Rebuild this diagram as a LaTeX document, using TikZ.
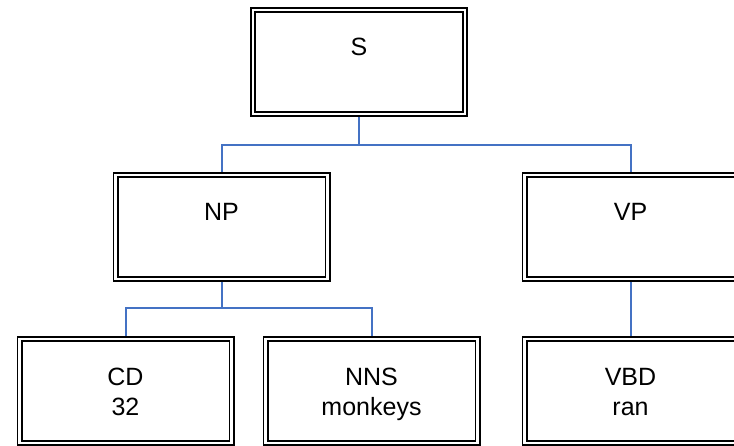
\documentclass[tikz,border=0pt]{standalone}
\usepackage{fontspec}
\setmainfont{Liberation Sans}
\usepackage{tikz}
\definecolor{linkblue}{RGB}{68,114,196}
\tikzset{
  tag/.style={draw=black,double=white,line width=1.9pt,double distance=2.2pt,
    rectangle,minimum width=212pt,minimum height=104pt,inner sep=0pt,outer sep=3pt,
    align=center,text height=46pt,text depth=58pt,
    font=\fontsize{25}{31}\selectfont},
  tagtwo/.style={tag,text height=77pt,text depth=27pt},
  link/.style={draw=linkblue,line width=2pt}
}
\begin{document}
\begin{tikzpicture}[line cap=butt,line join=miter,x=1pt,y=-1pt]
\clip(0,0) rectangle (734,446);
\node[tag] (S) at (359,62) {S};
\node[tag] (NP) at (221.5,227) {NP};
\node[tag] (VP) at (630.5,227) {VP};
\node[tagtwo] (CD) at (125.5,391) {CD\\32};
\node[tagtwo] (NNS) at (371.5,391) {NNS\\monkeys};
\node[tagtwo] (VBD) at (630.5,391) {VBD\\ran};
\coordinate (sfork) at (359,145);
\coordinate (npfork) at (221.5,308.5);
\draw[link] (S) -- (sfork) -| (NP);
\draw[link] (sfork) -| (VP);
\draw[link] (NP) -- (npfork) -| (CD);
\draw[link] (npfork) -| (NNS);
\draw[link] (VP) -- (VBD);
\end{tikzpicture}
\end{document}
